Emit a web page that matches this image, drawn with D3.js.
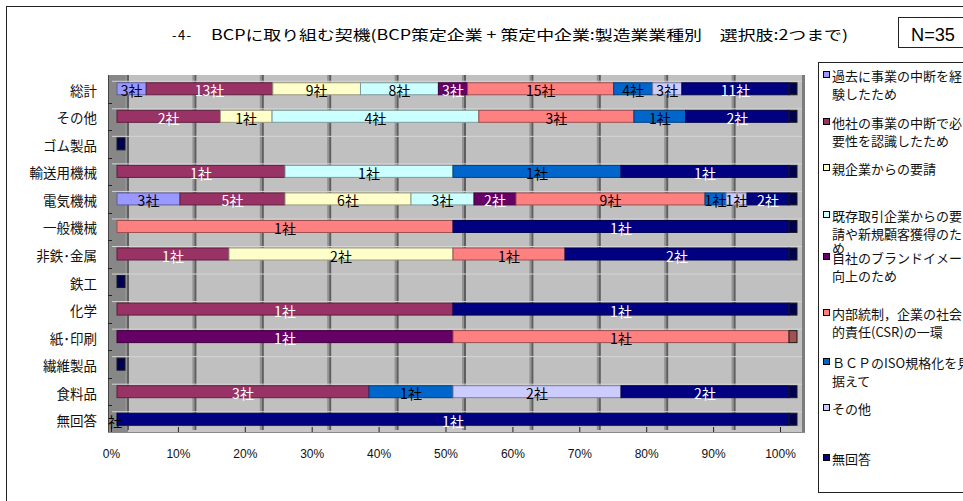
<!DOCTYPE html>
<html>
<head>
<meta charset="utf-8">
<script src="https://cdn.jsdelivr.net/npm/d3@7"></script>
<style>
  html, body { margin: 0; padding: 0; background: #fff; }
  svg { display: block; }
</style>
</head>
<body>
<svg id="chart" width="963" height="501"></svg>
<script>
// ---- data ----
const categories = ["総計", "その他", "ゴム製品", "輸送用機械", "電気機械", "一般機械",
  "非鉄･金属", "鉄工", "化学", "紙･印刷", "繊維製品", "食料品", "無回答"];

const seriesNames = [
  "過去に事業の中断を経験したため",
  "他社の事業の中断で必要性を認識したため",
  "親企業からの要請",
  "既存取引企業からの要請や新規顧客獲得のため",
  "自社のブランドイメージ向上のため",
  "内部統制，企業の社会的責任(CSR)の一環",
  "ＢＣＰのISO規格化を見据えて",
  "その他",
  "無回答"
];

// legend text, broken the way the legend box wraps it
const legendLines = [
  ["過去に事業の中断を経", "験したため"],
  ["他社の事業の中断で必", "要性を認識したため"],
  ["親企業からの要請"],
  ["既存取引企業からの要", "請や新規顧客獲得のた", "め"],
  ["自社のブランドイメージ", "向上のため"],
  ["内部統制，企業の社会", "的責任(CSR)の一環"],
  ["ＢＣＰのISO規格化を見", "据えて"],
  ["その他"],
  ["無回答"]
];

// companies per category, one array per reason (category order as above)
const pastInterruption = [3, 0, 0, 0, 3, 0, 0, 0, 0, 0, 0, 0, 0];
const otherCompanyInterruption = [13, 2, 0, 1, 5, 0, 1, 0, 1, 0, 0, 3, 0];
const parentRequest = [9, 1, 0, 0, 6, 0, 2, 0, 0, 0, 0, 0, 0];
const clientRequest = [8, 4, 0, 1, 3, 0, 0, 0, 0, 0, 0, 0, 0];
const brandImage = [3, 0, 0, 0, 2, 0, 0, 0, 0, 1, 0, 0, 0];
const internalControl = [15, 3, 0, 0, 9, 1, 1, 0, 0, 1, 0, 0, 0];
const isoStandard = [4, 1, 0, 1, 1, 0, 0, 0, 0, 0, 0, 1, 0];
const otherReason = [3, 0, 0, 0, 1, 0, 0, 0, 0, 0, 0, 2, 0];
const noAnswer = [11, 2, 0, 1, 2, 1, 2, 0, 1, 0, 0, 2, 1];

const seriesValues = [pastInterruption, otherCompanyInterruption, parentRequest, clientRequest,
  brandImage, internalControl, isoStandard, otherReason, noAnswer];

const seriesColors = ["#9999FF", "#993366", "#FFFFCC", "#CCFFFF", "#660066",
  "#FF8080", "#0066CC", "#CCCCFF", "#000080"];
const labelColors = ["#000", "#fff", "#000", "#000", "#fff", "#000", "#000", "#000", "#fff"];

const tickValues = [0, 0.1, 0.2, 0.3, 0.4, 0.5, 0.6, 0.7, 0.8, 0.9, 1.0];

const titleNumber = "-\u00a04\u00a0-";
const titleText = "BCPに取り組む契機(BCP策定企業 + 策定中企業:製造業業種別　選択肢:2つまで)";
const sampleSize = "N=35";

// ---- drawing ----
const svg = d3.select("#chart");
const JP = "'Noto Sans CJK JP', 'Noto Sans', sans-serif";

// outer frame
svg.append("rect").attr("x", 6.5).attr("y", 6.5).attr("width", 1000).attr("height", 1000)
  .attr("fill", "#fff").attr("stroke", "#222").attr("stroke-width", 1);

// title
svg.append("text").attr("x", 172).attr("y", 40).attr("font-family", JP).attr("font-size", 13)
  .attr("textLength", 19).attr("lengthAdjust", "spacing").text(titleNumber);
svg.append("text").attr("x", 211).attr("y", 40).attr("font-family", JP).attr("font-size", 14)
  .attr("textLength", 637).attr("lengthAdjust", "spacingAndGlyphs").text(titleText);

// N box
svg.append("rect").attr("x", 898.5).attr("y", 17.5).attr("width", 100).attr("height", 30)
  .attr("fill", "#fff").attr("stroke", "#222");
svg.append("text").attr("x", 911).attr("y", 41).attr("font-family", "'Liberation Sans', Arial, sans-serif")
  .attr("font-size", 18).attr("textLength", 44).attr("lengthAdjust", "spacingAndGlyphs").text(sampleSize);

// scales
const plotTop = 75, plotBottom = 433;
const yBand = d3.scaleBand().domain(categories).range([plotTop, plotBottom]);
const barH = 12;
const barX = d3.scaleLinear().domain([0, 1]).range([117, 789]);   // bar front faces
const wallX = d3.scaleLinear().domain([0, 1]).range([128, 802]);  // back wall grid
const axisX = d3.scaleLinear().domain([0, 1]).range([111, 780]);  // front (floor) axis

// back wall
svg.append("rect").attr("x", wallX(0)).attr("y", plotTop).attr("width", wallX(1) - wallX(0))
  .attr("height", 427 - plotTop).attr("fill", "#c0c0c0");
// floor strip
svg.append("polygon")
  .attr("points", [[108, 432], [wallX(0), 427], [wallX(1), 427], [wallX(1), 432]].map(p => p.join(",")).join(" "))
  .attr("fill", "#c6c6c6");
// left wall
svg.append("rect").attr("x", 108).attr("y", plotTop).attr("width", wallX(0) - 108)
  .attr("height", 432 - plotTop).attr("fill", "#878787");

// gridlines on the back wall
const grid = svg.append("g");
tickValues.forEach(t => {
  const gx = wallX(t);
  if (t < 1) {
    grid.append("rect").attr("x", gx - 3).attr("y", plotTop).attr("width", 2).attr("height", 430 - plotTop)
      .attr("fill", "#929292");
    grid.append("rect").attr("x", gx - 1).attr("y", plotTop).attr("width", 2).attr("height", 430 - plotTop)
      .attr("fill", "#5e5e5e");
  }
});
// right wall edge
svg.append("rect").attr("x", wallX(1)).attr("y", plotTop).attr("width", 3).attr("height", 432 - plotTop)
  .attr("fill", "#7c7c7c");
// left axis line and category ticks
svg.append("line").attr("x1", 108.5).attr("x2", 108.5).attr("y1", plotTop).attr("y2", 432)
  .attr("stroke", "#444");
categories.forEach((c, i) => {
  const ty = Math.round(yBand(c)) + 0.5;
  if (i > 0) svg.append("line").attr("x1", 108).attr("x2", 112).attr("y1", ty).attr("y2", ty)
    .attr("stroke", "#222");
});

// bottom axis
const axis = d3.axisBottom(axisX).tickValues(tickValues).tickSize(-5).tickPadding(17)
  .tickFormat(d3.format(".0%"));
const axisG = svg.append("g").attr("transform", "translate(0,432)").call(axis);
axisG.select(".domain").remove();
axisG.selectAll(".tick line").attr("stroke", "#222");
axisG.selectAll(".tick text").attr("font-family", "'Liberation Sans', Arial, sans-serif")
  .attr("font-size", 12).attr("fill", "#111");
svg.append("line").attr("x1", 108).attr("x2", wallX(1) + 3).attr("y1", 432.5).attr("y2", 432.5)
  .attr("stroke", "#8a8a8a");

// category labels
svg.append("g").selectAll("text").data(categories).join("text")
  .attr("x", 97).attr("y", d => yBand(d) + yBand.bandwidth() / 2 + 1)
  .attr("text-anchor", "end").attr("dominant-baseline", "central")
  .attr("font-family", JP).attr("font-size", 13.5).attr("fill", "#111").text(d => d);

// stacked 100% bars
const bars = svg.append("g");
const labels = svg.append("g");
categories.forEach((cat, ci) => {
  const vals = seriesValues.map(s => s[ci]);
  const total = d3.sum(vals);
  const yTop = yBand(cat) + (yBand.bandwidth() - barH) / 2;
  const yMid = yTop + barH / 2;

  // light edge on the wall just above each bar
  bars.append("line").attr("x1", 112).attr("x2", wallX(1)).attr("y1", yTop - 1.5).attr("y2", yTop - 1.5)
    .attr("stroke", "#d4d4d4").attr("stroke-width", 1);

  let cum = 0;
  let lastIdx = seriesColors.length - 1;
  vals.forEach((v, si) => {
    if (v <= 0 || total === 0) return;
    const x0 = barX(cum / total), x1 = barX((cum + v) / total);
    cum += v;
    lastIdx = si;
    const col = seriesColors[si];
    bars.append("rect").attr("x", x0).attr("y", yTop).attr("width", x1 - x0).attr("height", barH)
      .attr("fill", col).attr("stroke", d3.color(col).darker(1.4)).attr("stroke-width", 1);
    labels.append("text").attr("x", (x0 + x1) / 2).attr("y", yMid + 1.5)
      .attr("text-anchor", "middle").attr("dominant-baseline", "central")
      .attr("font-family", JP).attr("font-size", 14).attr("fill", labelColors[si])
      .text(v + "社");
  });
  // end face of the bar
  const endX = barX(total > 0 ? 1 : 0);
  const capCol = d3.color(seriesColors[lastIdx]).darker(1.3);
  bars.append("rect").attr("x", endX).attr("y", yTop).attr("width", 8).attr("height", barH)
    .attr("fill", capCol).attr("stroke", "#1a1a1a").attr("stroke-width", 1);
});

// stray label fragment at the start of the last row
const lastCat = categories[categories.length - 1];
labels.append("text").attr("x", 115).attr("y", yBand(lastCat) + yBand.bandwidth() / 2 + 2)
  .attr("text-anchor", "middle").attr("dominant-baseline", "central")
  .attr("font-family", JP).attr("font-size", 14).attr("fill", "#000").text("社");

// legend
const legendTop = [75, 122, 168, 215, 257, 313, 362, 408, 458];
const lg = svg.append("g");
lg.append("rect").attr("x", 818.5).attr("y", 62.5).attr("width", 200).attr("height", 430)
  .attr("fill", "#fff").attr("stroke", "#222");
legendLines.forEach((lines, i) => {
  const y0 = legendTop[i];
  lg.append("rect").attr("x", 823.5).attr("y", y0 - 3.5).attr("width", 6).attr("height", 6)
    .attr("fill", seriesColors[i]).attr("stroke", "#000").attr("stroke-width", 1);
  lines.forEach((ln, k) => {
    lg.append("text").attr("x", 832).attr("y", y0 + k * 18 + (k === 2 ? -4 : 0))
      .attr("dominant-baseline", "central").attr("font-family", JP).attr("font-size", 13)
      .attr("fill", "#111").text(ln);
  });
});
</script>
</body>
</html>
